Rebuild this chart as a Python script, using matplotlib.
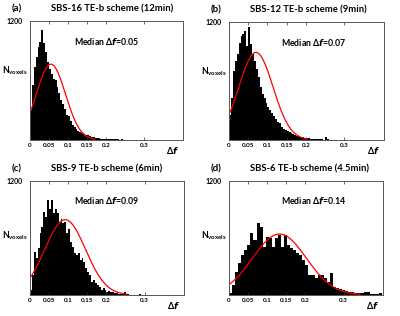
import numpy as np
import matplotlib.pyplot as plt

plt.rcParams['font.family'] = ['Lato', 'DejaVu Sans']
plt.rcParams['mathtext.fontset'] = 'custom'
plt.rcParams['mathtext.rm'] = 'Lato:bold'
plt.rcParams['mathtext.it'] = 'DejaVu Sans:bold:italic'

# panel info
labels = ['(a)', '(b)', '(c)', '(d)']
titles = ['SBS-16 TE-b scheme (12min)', 'SBS-12 TE-b scheme (9min)',
          'SBS-9 TE-b scheme (6min)', 'SBS-6 TE-b scheme (4.5min)']
medians = ['0.05', '0.07', '0.09', '0.14']
bin_widths = [0.005, 0.005, 0.005, 0.008]

# histogram counts, bins start at 0
counts_a = [300, 550, 740, 840, 940, 990, 1110, 975, 890, 790, 720, 670, 620, 600,
            535, 470, 400, 365, 315, 250, 240, 190, 150, 135, 115, 95, 85, 72, 60,
            52, 48, 40, 32, 28, 25, 22, 16, 15, 14, 13, 12, 12, 10, 9, 8, 7, 6, 5, 14,
            5, 3, 3, 2, 3, 2, 2, 1, 2, 1, 1]
counts_b = [250, 430, 700, 800, 870, 990, 1060, 1080, 1110, 960, 1145, 975, 875, 800,
            720, 640, 540, 470, 430, 380, 340, 310, 270, 240, 210, 185, 170, 130, 110,
            105, 90, 78, 75, 60, 50, 45, 40, 35, 28, 25, 25, 20, 15, 12, 10, 10, 8, 8,
            6, 5, 35, 10, 4, 3, 3, 2, 2, 2, 2, 1, 2, 1, 1, 1, 2, 1, 1]
counts_c = [50, 210, 455, 385, 490, 650, 720, 875, 825, 1000, 910, 1000, 860, 910,
            860, 770, 805, 755, 770, 650, 700, 560, 510, 440, 420, 440, 370, 385, 350,
            280, 245, 210, 140, 160, 125, 105, 88, 52, 70, 52, 35, 42, 28, 35, 18, 25,
            14, 12, 10, 28, 8, 6, 5, 5, 4, 4, 3, 6, 3, 3, 2, 2, 2, 3, 2, 2, 1, 1, 1, 1]
counts_d = [18, 105, 245, 335, 420, 475, 525, 650, 580, 755, 720, 510, 615, 595, 510,
            595, 630, 510, 630, 525, 490, 475, 440, 420, 370, 315, 210, 210, 175, 210,
            210, 175, 140, 230, 88, 70, 60, 53, 42, 35, 28, 25, 25, 18, 35, 28, 14, 14,
            10, 18]
all_counts = [counts_a, counts_b, counts_c, counts_d]

# gaussian fit (mean, sigma, amplitude)
fit_mu = [0.055, 0.070, 0.092, 0.132]
fit_sigma = [0.0384, 0.0444, 0.0533, 0.0702]
fit_amp = [765, 891, 793, 642]

xticks = [0, 0.05, 0.1, 0.15, 0.2, 0.3]
xticklabels = ['0', '0.05', '0.1', '0.15', '0.2', '0.3']

W, H = 400, 316
fig = plt.figure(figsize=(W / 100, H / 100), dpi=100)

# axes boxes in pixels: left, top, right, bottom
boxes = [(30, 21, 183, 140), (229, 22, 384, 140),
         (30, 181, 184, 295), (229, 181, 383, 295)]

for i in range(4):
    l, t, r, b = boxes[i]
    ax = fig.add_axes([l / W, 1 - b / H, (r - l) / W, (b - t) / H])
    counts = all_counts[i]
    bw = bin_widths[i]
    edges = np.arange(len(counts)) * bw
    ax.bar(edges, counts, width=bw, align='edge', color='black', linewidth=0)

    xs = np.linspace(0, fit_mu[i] + 3 * fit_sigma[i], 200)
    ys = fit_amp[i] * np.exp(-(xs - fit_mu[i]) ** 2 / (2 * fit_sigma[i] ** 2))
    ax.plot(xs, ys, color='#ff0000', lw=0.9)

    ax.set_xlim(0, 0.403)
    ax.set_ylim(0, 1200)
    ax.set_xticks(xticks)
    ax.set_xticklabels(xticklabels, fontsize=4.5, fontweight='bold')
    ax.set_yticks([1200])
    ax.set_yticklabels(['1200'], fontsize=5, fontweight='bold')
    ax.tick_params(direction='in', length=2, width=0.5, top=True, pad=2,
                   colors='#333333', labelcolor='black')
    ax.tick_params(axis='y', length=0, pad=5)
    for s in ax.spines.values():
        s.set_linewidth(0.7)
        s.set_color('#555555')

    ax.text(0.375, -0.04, r'$\Delta f$', transform=ax.get_xaxis_transform(),
            ha='center', va='top', fontsize=6.5)
    ax.text(-0.012, 0.58 if i < 2 else 0.52, r'$\mathrm{N_{voxels}}$',
            transform=ax.transAxes, ha='right', va='center', fontsize=6.2)
    ax.text(0.5 + (0.05 if i % 2 else 0), 0.83,
            r'Median $\Delta f$=' + medians[i], transform=ax.transAxes,
            ha='center', va='center', fontsize=6.3, fontweight='bold')

    fig.text((l - 18) / W, 1 - (t - 12) / H, labels[i], ha='left', va='center',
             fontsize=7, fontweight='bold')
    fig.text((l + 21) / W, 1 - (t - 12) / H, titles[i], ha='left', va='center',
             fontsize=6.8, fontweight='bold')

fig.savefig('out.png', dpi=100)
